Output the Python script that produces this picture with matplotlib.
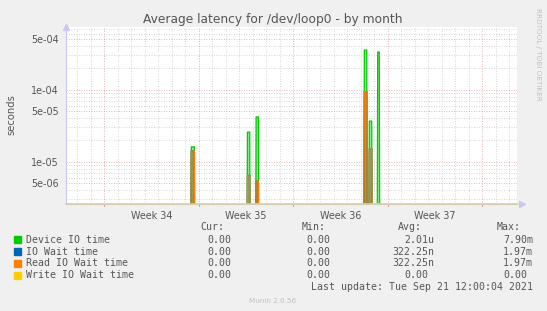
import matplotlib
matplotlib.use("Agg")
import matplotlib.pyplot as plt
from matplotlib.ticker import FixedLocator, NullFormatter
import numpy as np

# spikes, in days after Monday of week 34
spike_start = [6.44, 10.60, 11.24, 19.26, 19.63, 20.25]
spike_end = [6.67, 10.77, 11.41, 19.44, 19.81, 20.37]
device_io = [1.61e-5, 2.58e-5, 4.2e-5, 3.55e-4, 3.67e-5, 3.33e-4]
io_wait = [1.41e-5, 6.5e-6, 5.4e-6, 9.4e-5, 1.5e-5, 0.0]
read_wait = [1.41e-5, 6.5e-6, 5.4e-6, 9.4e-5, 1.5e-5, 0.0]
write_wait = [0.0, 0.0, 0.0, 0.0, 0.0, 0.0]

week_labels = ["Week 34", "Week 35", "Week 36", "Week 37"]
series_names = ["Device IO time", "IO Wait time", "Read IO Wait time", "Write IO Wait time"]
series_colors = ["#00cc00", "#0066b3", "#ff8000", "#ffcc00"]
cur_vals = ["0.00", "0.00", "0.00", "0.00"]
min_vals = ["0.00", "0.00", "0.00", "0.00"]
avg_vals = ["2.01u", "322.25n", "322.25n", "0.00"]
max_vals = ["7.90m", "1.97m", "1.97m", "0.00"]

FLOOR = 1e-9
XMIN, XMAX = -2.84, 30.57
YMIN, YMAX = 2.62e-6, 7.34e-4


def spike_line(values):
    xs, ys = [XMIN], [FLOOR]
    for s, e, v in zip(spike_start, spike_end, values):
        v = v if v > 0 else FLOOR
        xs += [s - 0.07, s, e, e + 0.07]
        ys += [FLOOR, v, v, FLOOR]
    xs.append(XMAX)
    ys.append(FLOOR)
    return np.array(xs), np.array(ys)


W, H = 547, 311
fig = plt.figure(figsize=(W / 100, H / 100), dpi=100, facecolor="#f0f0f0")
ax = fig.add_axes([66 / W, 1 - 203.7 / H, (517 - 66) / W, (203.7 - 27.3) / H])
ax.set_facecolor("white")
ax.set_yscale("log")
ax.set_xlim(XMIN, XMAX)
ax.set_ylim(YMIN, YMAX)

# grid
decades = [1e-6, 1e-5, 1e-4, 1e-3]
major_y = [d * m for d in decades for m in (1, 5)]
minor_y = [d * m for d in decades for m in (2, 3, 4, 6, 7, 8, 9)]
days = np.arange(-2, 31)
mondays = [0, 7, 14, 21, 28]
for y in minor_y:
    ax.axhline(y, color="#c8c8c8", lw=0.6, ls=(0, (1, 2)), zorder=0)
for d in days:
    if d not in mondays:
        ax.axvline(d, color="#c8c8c8", lw=0.6, ls=(0, (1, 2)), zorder=0)
for y in major_y:
    ax.axhline(y, color="#e09a9a", lw=0.6, ls=(0, (1, 2)), zorder=0.5)
for d in mondays:
    ax.axvline(d, color="#e09a9a", lw=0.6, ls=(0, (1, 2)), zorder=0.5)

# series
for vals, col in zip([device_io, io_wait, read_wait, write_wait], series_colors):
    xs, ys = spike_line(vals)
    ax.fill_between(xs, FLOOR, ys, color=col, alpha=0.45, lw=0, zorder=2)
    ax.plot(xs, ys, color=col, lw=0.9, zorder=3)
ax.axhline(YMIN, color="#d8d0a0", lw=1.2, zorder=4, clip_on=False)

# ticks and labels
ax.yaxis.set_major_locator(FixedLocator([5e-6, 1e-5, 5e-5, 1e-4, 5e-4]))
ax.yaxis.set_minor_locator(FixedLocator([]))
ax.set_yticklabels(["5e-06", "1e-05", "5e-05", "1e-04", "5e-04"])
ax.tick_params(axis="y", length=0, pad=5, labelsize=6.9, labelcolor="#555555")
ax.set_xticks([3.5, 10.5, 17.5, 24.5])
ax.set_xticklabels(week_labels)
ax.tick_params(axis="x", length=0, pad=5, labelsize=6.9, labelcolor="#555555")
ax.xaxis.set_minor_locator(FixedLocator([]))
for sp in ["top", "right"]:
    ax.spines[sp].set_visible(False)
ax.spines["left"].set_color("#c8c8f0")
ax.spines["bottom"].set_color("#c8c8f0")
ax.spines["left"].set_linewidth(0.8)
ax.spines["bottom"].set_linewidth(0.8)
ax.plot(0, 1.0, marker="^", ms=4, color="#c8c8f0", transform=ax.transAxes, clip_on=False)
ax.plot(1.01, 0, marker=">", ms=4, color="#c8c8f0", transform=ax.transAxes, clip_on=False)
for d in mondays:
    ax.plot([d, d], [0, -0.012], color="#e09a9a", lw=0.7, transform=ax.get_xaxis_transform(),
            clip_on=False)

fig.text(272.7 / W, 1 - 20 / H, "Average latency for /dev/loop0 - by month",
         ha="center", va="center", fontsize=8.8, color="#555555")
fig.text(11 / W, 1 - 115 / H, "seconds", rotation=90, ha="center", va="center",
         fontsize=7.2, color="#555555")
fig.text(538 / W, 1 - 8 / H, "RRDTOOL / TOBI OETIKER", rotation=270, ha="center", va="top",
         fontsize=5.2, color="#c0c0c0")

# legend table
mono = dict(family="DejaVu Sans Mono", fontsize=7.1, color="#555555", va="center")
fig.text(224.7 / W, 1 - 227 / H, "Cur:", ha="right", **mono)
fig.text(326 / W, 1 - 227 / H, "Min:", ha="right", **mono)
fig.text(422 / W, 1 - 227 / H, "Avg:", ha="right", **mono)
fig.text(521 / W, 1 - 227 / H, "Max:", ha="right", **mono)
rows = [239.7, 251.7, 263.5, 275.5]
for i, y in enumerate(rows):
    fy = 1 - y / H
    fig.patches.append(plt.Rectangle((14 / W, fy - 3.2 / H), 6.5 / W, 6.5 / H,
                                     transform=fig.transFigure, color=series_colors[i]))
    fig.text(26.3 / W, fy, series_names[i], ha="left", **mono)
    fig.text(231.7 / W, fy, cur_vals[i], ha="right", **mono)
    fig.text(330.7 / W, fy, min_vals[i], ha="right", **mono)
    suffix = avg_vals[i][-1].isalpha()
    fig.text((434 if suffix else 428) / W, fy, avg_vals[i], ha="right", **mono)
    suffix = max_vals[i][-1].isalpha()
    fig.text((533 if suffix else 527) / W, fy, max_vals[i], ha="right", **mono)
fig.text(533 / W, 1 - 287 / H, "Last update: Tue Sep 21 12:00:04 2021", ha="right", **mono)
fig.text(272.8 / W, 1 - 301 / H, "Munin 2.0.56", ha="center", va="center",
         fontsize=5.2, color="#c0c0c0")

fig.savefig("out.png", dpi=100, facecolor=fig.get_facecolor())
